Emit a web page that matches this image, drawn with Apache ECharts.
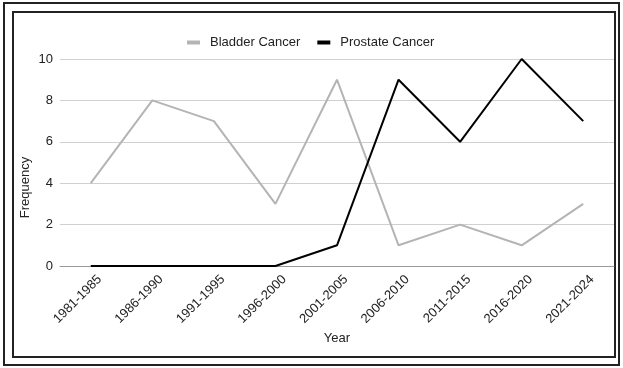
<!DOCTYPE html>
<html>
<head>
<meta charset="utf-8">
<script src="https://cdn.jsdelivr.net/npm/echarts@6/dist/echarts.min.js"></script>
<style>
  html, body { margin: 0; padding: 0; background: #fff; }
  #chart { width: 623px; height: 368px; }
</style>
</head>
<body>
<div id="chart"></div>
<script>
const years = ['1981-1985', '1986-1990', '1991-1995', '1996-2000', '2001-2005',
  '2006-2010', '2011-2015', '2016-2020', '2021-2024'];
const bladder = [4, 8, 7, 3, 9, 1, 2, 1, 3];
const prostate = [0, 0, 0, 0, 1, 9, 6, 10, 7];
const yTicks = [0, 2, 4, 6, 8, 10];

const font = 'Arial, "Liberation Sans", sans-serif';
const chart = echarts.init(document.getElementById('chart'), null, {renderer: 'canvas'});

chart.setOption({
  animation: false,
  textStyle: { fontFamily: font, color: '#222' },
  // double frame round the picture
  graphic: [
    { type: 'rect', shape: { x: 4, y: 3, width: 615, height: 362 },
      style: { fill: 'none', stroke: '#222', lineWidth: 2 } },
    { type: 'rect', shape: { x: 13, y: 12, width: 602, height: 345 },
      style: { fill: 'none', stroke: '#222', lineWidth: 2 } }
  ],
  legend: {
    top: 31,
    left: 182,
    itemWidth: 13,
    itemHeight: 4,
    itemGap: 17,
    icon: 'rect',
    textStyle: { fontFamily: font, fontSize: 13, color: '#222', padding: [0, 0, 0, 5] },
    data: ['Bladder Cancer', 'Prostate Cancer']
  },
  grid: { left: 60, right: 9, top: 59, bottom: 102, containLabel: false },
  xAxis: {
    type: 'category',
    data: years,
    boundaryGap: true,
    name: 'Year',
    nameLocation: 'middle',
    nameGap: 66,
    nameMoveOverlap: false,
    nameTextStyle: { fontFamily: font, fontSize: 13, color: '#222' },
    axisLine: { show: true, lineStyle: { color: '#999', width: 1 } },
    axisTick: { show: false },
    axisLabel: { rotate: 45, fontSize: 13, color: '#222', margin: 11, verticalAlign: 'top',
      padding: [0, -6, 0, 0], fontFamily: font }
  },
  yAxis: {
    type: 'value',
    min: yTicks[0],
    max: yTicks[yTicks.length - 1],
    interval: 2,
    name: 'Frequency',
    nameLocation: 'middle',
    nameGap: 28,
    nameMoveOverlap: false,
    nameTextStyle: { fontFamily: font, fontSize: 13, color: '#222', padding: [0, 50, 0, 0] },
    axisLine: { show: false },
    axisTick: { show: false },
    axisLabel: { fontSize: 13, color: '#222', margin: 7, fontFamily: font },
    splitLine: { lineStyle: { color: '#d0d0d0', width: 1 } }
  },
  series: [
    {
      name: 'Bladder Cancer',
      type: 'line',
      data: bladder,
      symbol: 'none',
      color: '#b4b4b4',
      lineStyle: { color: '#b4b4b4', width: 2 }
    },
    {
      name: 'Prostate Cancer',
      type: 'line',
      data: prostate,
      symbol: 'none',
      color: '#000',
      lineStyle: { color: '#000', width: 2 }
    }
  ]
});
</script>
</body>
</html>
